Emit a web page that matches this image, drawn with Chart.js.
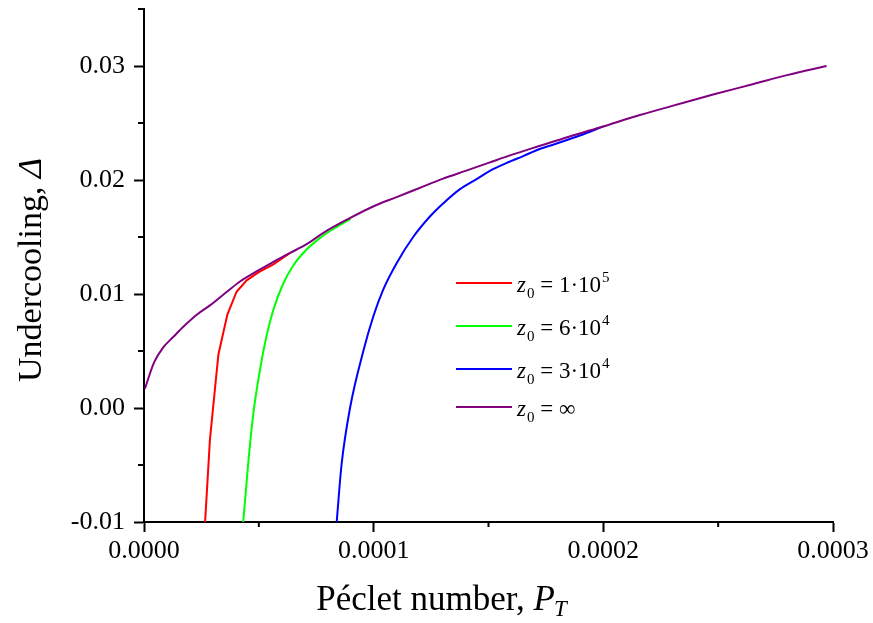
<!DOCTYPE html>
<html>
<head>
<meta charset="utf-8">
<script src="https://cdn.jsdelivr.net/npm/chart.js@4.4.1/dist/chart.umd.min.js"></script>
<style>
  html, body { margin: 0; padding: 0; background: #fff; }
  #wrap { width: 873px; height: 623px; }
</style>
</head>
<body>
<div id="wrap"><canvas id="chart" width="873" height="623"></canvas></div>
<script>
// tick positions and labels
const xTicks = [0, 0.0001, 0.0002, 0.0003];
const xMinor = [0.00005, 0.00015, 0.00025];
const yTicks = [-0.01, 0, 0.01, 0.02, 0.03];
const yMinor = [-0.005, 0.005, 0.015, 0.025, 0.035];

// z0 = 1e5 (red)
const redX = [0.0000266, 0.0000287, 0.0000313, 0.0000324, 0.0000363, 0.0000403, 0.0000447, 0.0000498, 0.0000563, 0.0000636];
const redY = [-0.0100, -0.0028, 0.0025, 0.0047, 0.0082, 0.0102, 0.0112, 0.0119, 0.0126, 0.0136];

// z0 = 6e4 (green)
const greenX = [0.0000432, 0.0000454, 0.0000476, 0.0000498, 0.0000527, 0.0000563, 0.0000606, 0.0000650, 0.0000708, 0.0000766, 0.0000824, 0.0000900];
const greenY = [-0.0100, -0.0048, -0.0005, 0.0025, 0.0057, 0.0086, 0.0109, 0.0125, 0.0139, 0.0149, 0.0157, 0.0166];

// z0 = 3e4 (blue)
const blueX = [0.0000839, 0.0000860, 0.0000897, 0.0000955, 0.0000998, 0.0001042, 0.0001100, 0.0001172, 0.0001245, 0.0001300, 0.0001376, 0.0001450, 0.0001506, 0.0001580, 0.0001651, 0.0001720, 0.0001797, 0.0001898, 0.0002000];
const blueY = [-0.0100, -0.0050, 0.0000, 0.0050, 0.0080, 0.0104, 0.0127, 0.0150, 0.0168, 0.0179, 0.0192, 0.0201, 0.0208, 0.0215, 0.0221, 0.0227, 0.0232, 0.0239, 0.0247];

// z0 = infinity (purple)
const purpleX = [0.0000004, 0.0000044, 0.0000083, 0.0000126, 0.0000170, 0.0000231, 0.0000287, 0.0000361, 0.0000418, 0.0000492, 0.0000562, 0.0000636, 0.0000710, 0.0000800, 0.0000900, 0.0001000, 0.0001100, 0.0001200, 0.0001300, 0.0001400, 0.0001500, 0.0001600, 0.0001724, 0.0001850, 0.0001985, 0.0002159, 0.0002300, 0.0002478, 0.0002650, 0.0002800, 0.0002972];
const purpleY = [0.0017, 0.0040, 0.0053, 0.0062, 0.0071, 0.0082, 0.0090, 0.0102, 0.0111, 0.0120, 0.0128, 0.0136, 0.0144, 0.0156, 0.0167, 0.0177, 0.0185, 0.0193, 0.0201, 0.0208, 0.0215, 0.0222, 0.0230, 0.0238, 0.0246, 0.0257, 0.0265, 0.0275, 0.0284, 0.0292, 0.0300];

const legendSup = ["5", "4", "4", ""];
const legendNum = ["1\u00b710", "6\u00b710", "3\u00b710", "\u221e"];

const serif = "'Liberation Serif', 'Times New Roman', serif";

function pts(xs, ys) {
  return xs.map((x, i) => ({ x: x, y: ys[i] }));
}

// minor ticks + axis titles + legend
const extras = {
  id: "extras",
  afterDraw(chart) {
    const ctx = chart.ctx;
    const xs = chart.scales.x, ys = chart.scales.y;
    const area = chart.chartArea;
    ctx.save();
    ctx.strokeStyle = "#000";
    ctx.lineWidth = 2;
    ctx.beginPath();
    xMinor.forEach(v => {
      const px = xs.getPixelForValue(v);
      ctx.moveTo(px, area.bottom);
      ctx.lineTo(px, area.bottom + 5);
    });
    yMinor.forEach(v => {
      const py = ys.getPixelForValue(v);
      ctx.moveTo(area.left, py);
      ctx.lineTo(area.left - 6, py);
    });
    ctx.stroke();

    ctx.fillStyle = "#000";
    ctx.textBaseline = "alphabetic";

    // x title: Péclet number, P_T
    const f1 = "35px " + serif, f1i = "italic 35px " + serif, fs = "italic 23px " + serif;
    ctx.font = f1; const wA = ctx.measureText("P\u00e9clet number, ").width;
    ctx.font = f1i; const wP = ctx.measureText("P").width;
    ctx.font = fs; const wT = ctx.measureText("T").width;
    let x0 = 442 - (wA + wP + wT) / 2;
    const by = 610;
    ctx.font = f1; ctx.fillText("P\u00e9clet number, ", x0, by);
    ctx.font = f1i; ctx.fillText("P", x0 + wA, by);
    ctx.font = fs; ctx.fillText("T", x0 + wA + wP - 1, by + 6);

    // y title: Undercooling, Δ
    const f2 = "34px " + serif, f2i = "italic 34px " + serif;
    ctx.save();
    ctx.translate(41, 270);
    ctx.rotate(-Math.PI / 2);
    ctx.font = f2; const wU = ctx.measureText("Undercooling, ").width;
    ctx.font = f2i; const wD = ctx.measureText("\u0394").width;
    const s0 = -(wU + wD) / 2;
    ctx.font = f2; ctx.fillText("Undercooling, ", s0, 0);
    ctx.font = f2i; ctx.fillText("\u0394", s0 + wU, 0);
    ctx.restore();

    // legend
    const rows = [283, 326, 369, 407];
    const order = [1, 2, 3, 0];
    rows.forEach((ly, i) => {
      const ds = chart.data.datasets[order[i]];
      ctx.strokeStyle = ds.borderColor;
      ctx.lineWidth = 2;
      ctx.beginPath();
      ctx.moveTo(456, ly);
      ctx.lineTo(512, ly);
      ctx.stroke();
      const bl = ly + 9;
      let cx = 517;
      ctx.font = "italic 23px " + serif; ctx.fillText("z", cx, bl);
      cx += ctx.measureText("z").width + 1;
      ctx.font = "15px " + serif; ctx.fillText("0", cx, bl + 6);
      cx += ctx.measureText("0").width;
      ctx.font = "23px " + serif;
      const txt = " = " + legendNum[i];
      ctx.fillText(txt, cx, bl);
      cx += ctx.measureText(txt).width + 1;
      if (legendSup[i]) {
        ctx.font = "15px " + serif; ctx.fillText(legendSup[i], cx, bl - 10);
      }
    });
    ctx.restore();
  }
};

const line = (data, color, ord, smooth) => ({
  data: data,
  borderColor: color,
  backgroundColor: color,
  borderWidth: 2,
  pointRadius: 0,
  showLine: true,
  order: ord,
  cubicInterpolationMode: smooth ? "monotone" : "default",
  tension: 0
});

new Chart(document.getElementById("chart"), {
  type: "scatter",
  data: {
    datasets: [
      line(pts(purpleX, purpleY), "#800080", 0, true),
      line(pts(redX, redY), "#ff0000", 1, false),
      line(pts(greenX, greenY), "#00ff00", 2, true),
      line(pts(blueX, blueY), "#0000ff", 3, true)
    ]
  },
  options: {
    responsive: false,
    animation: false,
    layout: { padding: { top: 9, right: 40, left: 0, bottom: 0 } },
    plugins: { legend: { display: false }, tooltip: { enabled: false } },
    scales: {
      x: {
        type: "linear",
        min: 0,
        max: 0.0003,
        afterBuildTicks: s => { s.ticks = xTicks.map(v => ({ value: v })); },
        afterFit: s => { s.height = 101; s.paddingLeft = 0; s.paddingRight = 0; },
        ticks: {
          callback: v => v.toFixed(4),
          color: "#000",
          font: { family: serif, size: 26 },
          padding: 4,
          maxRotation: 0
        },
        grid: { drawOnChartArea: false, drawTicks: true, tickLength: 10, tickColor: "#000", tickWidth: 2 },
        border: { display: true, color: "#000", width: 2 }
      },
      y: {
        type: "linear",
        min: -0.01,
        max: 0.035,
        afterBuildTicks: s => { s.ticks = yTicks.map(v => ({ value: v })); },
        afterFit: s => { s.width = 144; s.paddingTop = 0; s.paddingBottom = 0; },
        ticks: {
          callback: v => v.toFixed(2),
          color: "#000",
          font: { family: serif, size: 26 },
          padding: 9
        },
        grid: { drawOnChartArea: false, drawTicks: true, tickLength: 10, tickColor: "#000", tickWidth: 2 },
        border: { display: true, color: "#000", width: 2 }
      }
    }
  },
  plugins: [extras]
});
</script>
</body>
</html>
